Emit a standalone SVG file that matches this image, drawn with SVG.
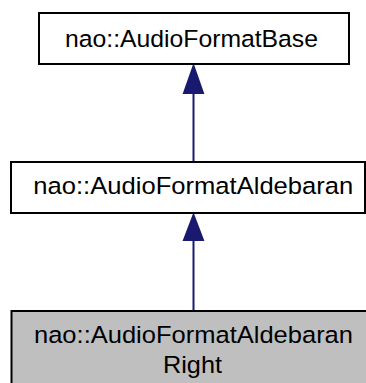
<svg xmlns="http://www.w3.org/2000/svg" width="366" height="383" viewBox="0 0 366 383">
<style>
.box{fill:#ffffff;stroke:#000000;stroke-width:2}
.cur{fill:#bfbfbf;stroke:#000000;stroke-width:2}
.lbl{font-family:"Liberation Sans",Arial,sans-serif;font-size:24.5px;fill:#000000;text-anchor:middle}
.edge{stroke:#191970;stroke-width:2;fill:none}
.head{fill:#191970;stroke:#191970;stroke-width:2}
</style>
<rect width="366" height="383" fill="#ffffff"/>
<g id="edges">
<line class="edge" x1="193.5" y1="93" x2="193.5" y2="162"/>
<polygon class="head" points="193.5,66 184,93 203,93"/>
<line class="edge" x1="193.5" y1="240" x2="193.5" y2="311"/>
<polygon class="head" points="193.5,215 184,240 203,240"/>
</g>
<g id="node_base">
<rect class="box" x="39" y="13" width="310" height="51"/>
<text class="lbl" x="191.5" y="47" textLength="253" lengthAdjust="spacingAndGlyphs">nao::AudioFormatBase</text>
</g>
<g id="node_aldebaran">
<rect class="box" x="11" y="162" width="354" height="51"/>
<text class="lbl" x="193.3" y="194" textLength="320" lengthAdjust="spacingAndGlyphs">nao::AudioFormatAldebaran</text>
</g>
<g id="node_right">
<rect class="cur" x="11.5" y="311" width="360" height="80"/>
<text class="lbl" x="193.5" y="343" textLength="319" lengthAdjust="spacingAndGlyphs">nao::AudioFormatAldebaran</text>
<text class="lbl" x="192.5" y="373" textLength="59" lengthAdjust="spacingAndGlyphs">Right</text>
</g>
</svg>
